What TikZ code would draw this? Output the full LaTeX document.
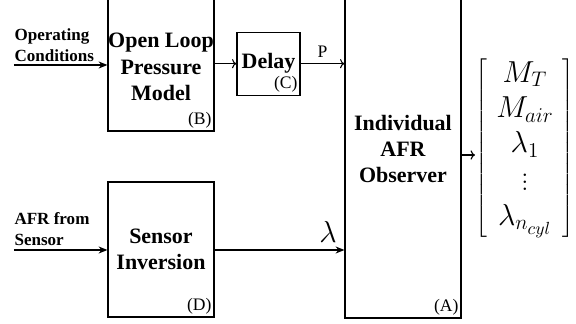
\documentclass[tikz,border=0pt]{standalone}
\usepackage[no-math]{fontspec}
\setmainfont{Liberation Serif}
\usetikzlibrary{arrows.meta}

\begin{document}
\begin{tikzpicture}[x=0.02cm, y=-0.02cm, line width=0.6pt,
  lbl/.style={align=center,inner sep=0pt,font=\fontsize{12.5}{15}\selectfont\bfseries},
  blk/.style={lbl,draw,line width=0.7pt},
  tag/.style={anchor=south east,inner sep=1.5pt,font=\fontsize{10}{12}\selectfont},
  ins/.style={anchor=south west,inner sep=0pt,align=left,font=\fontsize{9.7}{12}\selectfont\bfseries},
  sig/.style={-{Stealth[length=5pt,width=4pt]},line width=0.8pt},
  tap/.style={-{To[length=2.5pt]},line width=0.6pt}]
\useasboundingbox (0,0) rectangle (576,324);
\clip (0,0) rectangle (576,324);
% blocks
\node[blk,minimum width=2.12cm,minimum height=2.82cm] (olpm) at (161,60.5) {};
\node[lbl] (olpm-txt) at (161,67) {Open Loop\\Pressure\\Model};
\node[blk,minimum width=1.26cm,minimum height=1.26cm] (delay) at (268.5,63.7) {Delay};
\node[blk,minimum width=2.32cm,minimum height=6.76cm] (obs) at (403,149) {Individual\\AFR\\Observer};
\node[blk,minimum width=2.12cm,minimum height=2.7cm] (inv) at (161,249.5) {Sensor\\Inversion};
\node[tag] (tagB) at (olpm.south east) {(B)};
\node[tag] (tagC) at (delay.south east) {(C)};
\node[tag] (tagA) at (obs.south east) {(A)};
\node[tag] (tagD) at (inv.south east) {(D)};
% inputs
\coordinate (opc) at (14,65);
\coordinate (afr) at (14,250);
\node[ins] (opc-txt) at (14,62) {Operating\\Conditions};
\node[ins] (afr-txt) at (14,246) {AFR from\\Sensor};
\draw[sig] (opc) -- (opc -| olpm.west);
\draw[sig] (afr) -- (afr -| inv.west);
% signals
\draw[tap] (olpm.east |- delay) -- (delay.west);
\draw[tap] (delay.east) -- (delay.east -| obs.west) node[midway,above,font=\fontsize{10}{12}\selectfont] {P};
\draw[sig] (inv.east |- afr) -- (obs.west |- afr) node[pos=1,anchor=south east,inner sep=4pt,font=\LARGE] {$\lambda$};
% estimated states
\node[inner sep=0pt,font=\LARGE\fontfamily{lmr}\selectfont] (state) at (525,148)
  {\renewcommand\arraystretch{0.91}$\left[\begin{array}{c} M_T\\ M_{air}\\ \lambda_1\\ \vdots\\ \lambda_{n_{cyl}}\end{array}\right]$};
\coordinate (out) at (475,155);
\draw[tap] (out -| obs.east) -- (out);
\end{tikzpicture}
\end{document}
